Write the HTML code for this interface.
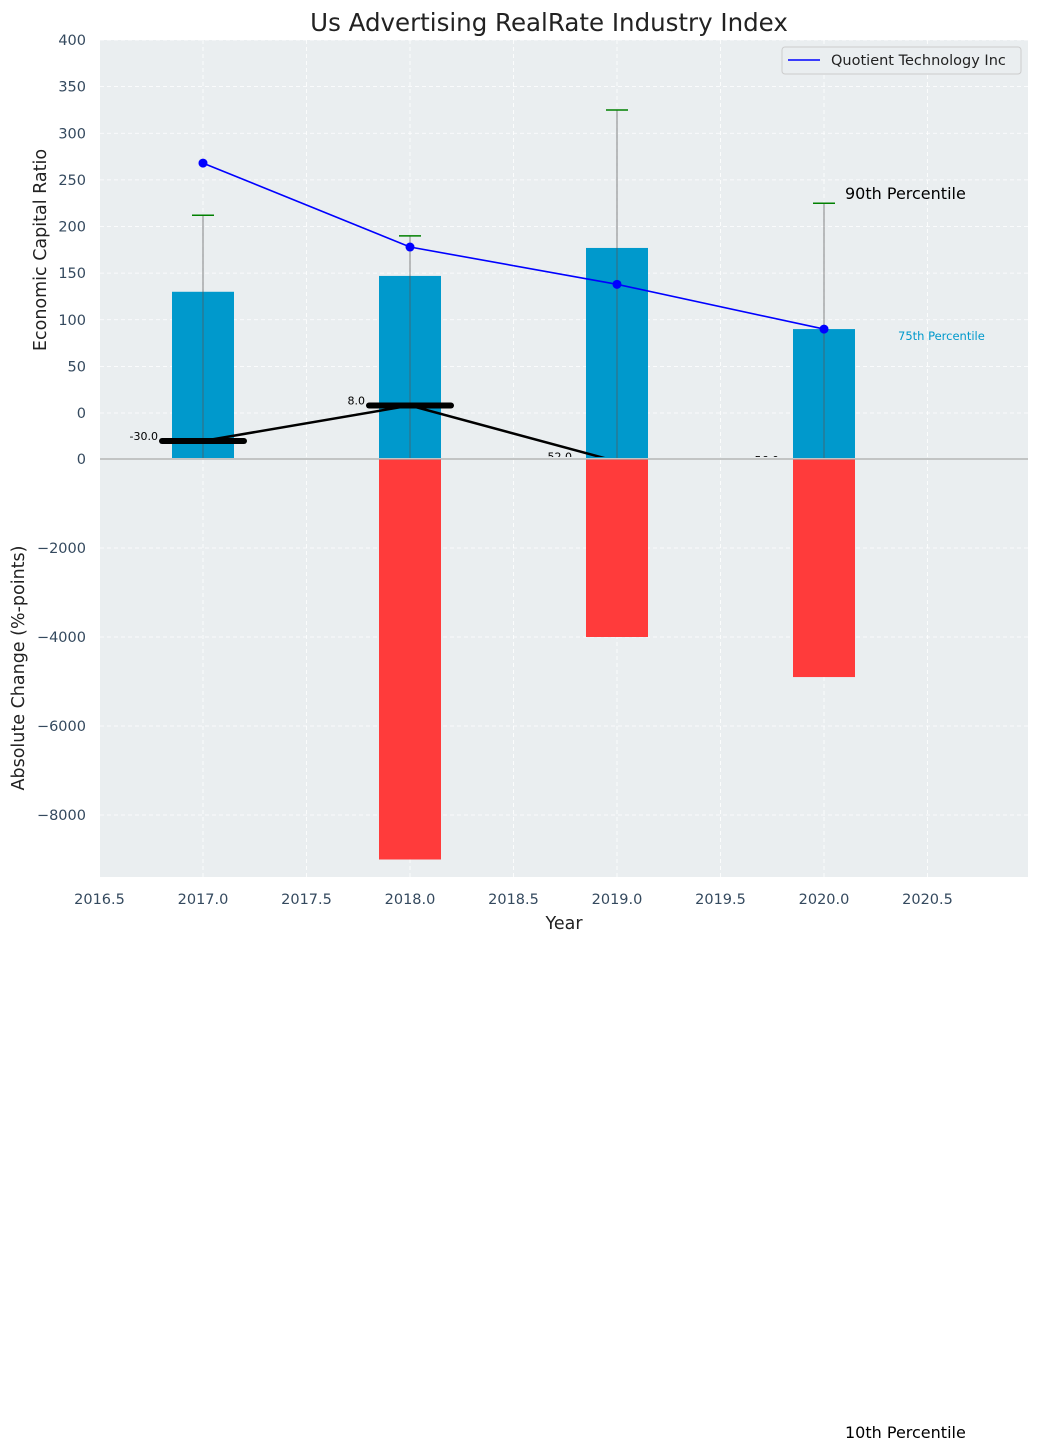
<!DOCTYPE html>
<html><head><meta charset="utf-8"><style>
body{margin:0;background:#fff;}
svg{display:block;font-family:"DejaVu Sans","Liberation Sans",sans-serif;}
</style></head><body>
<svg id="c" width="1039" height="1452" xmlns="http://www.w3.org/2000/svg"></svg>
<script>
const years=[2017,2018,2019,2020];
const barVals=[130,147,177,90];
const errTops=[212,190,325,225];
const lineVals=[268,178,138,90];
const changeVals=[-30,8,-52,-56];
const redYears=[2018,2019,2020];
const redVals=[-9000,-4000,-4900];
const xTicks=[2016.5,2017,2017.5,2018,2018.5,2019,2019.5,2020,2020.5];
const yTopTicks=[0,50,100,150,200,250,300,350,400];
const yBotTicks=[0,-2000,-4000,-6000,-8000];

const L=100,R=1028,T=40,B=877;
const X=v=>203+(v-2017)*207;
const YT=v=>413-v*0.9325;
const Yb=v=>459+(-v)*0.0445;
const svg=document.getElementById('c');
const NS='http://www.w3.org/2000/svg';
function el(t,a,p){const e=document.createElementNS(NS,t);for(const k in a)e.setAttribute(k,a[k]);(p||svg).appendChild(e);return e;}

const bg=el('rect',{x:L,y:T,width:R-L,height:B-T,fill:'#eaeef0'});



xTicks.forEach(t=>{
  const g=el('line',{x1:X(t),x2:X(t),y1:T,y2:B,stroke:'#fff','stroke-dasharray':'4,3','stroke-width':0.8});
  
  
  const tx=el('text',{x:X(t),y:904,'font-size':14.5,fill:'#34495e','text-anchor':'middle'});
  tx.textContent=t.toFixed(1);
  
  
});
yTopTicks.forEach(t=>{
  const g=el('line',{x1:L,x2:R,y1:YT(t),y2:YT(t),stroke:'#fff','stroke-dasharray':'4,3','stroke-width':0.8});
  
  
  const tx=el('text',{x:86,y:YT(t)+5,'font-size':14.5,fill:'#34495e','text-anchor':'end'});
  tx.textContent=t;
  
  
});
yBotTicks.forEach(t=>{
  const g=el('line',{x1:L,x2:R,y1:Yb(t),y2:Yb(t),stroke:'#fff','stroke-dasharray':'4,3','stroke-width':0.8});
  
  
  const tx=el('text',{x:86,y:Yb(t)+5,'font-size':14.5,fill:'#34495e','text-anchor':'end'});
  tx.textContent=t===0?'0':'\u2212'+Math.abs(t);
  
  
});

redYears.forEach((y,i)=>{
  const r=el('rect',{x:X(y)-31,y:459,width:62,height:Yb(redVals[i])-459,fill:'#ff3b3b'});
  
  
});
years.forEach((y,i)=>{
  const r=el('rect',{x:X(y)-31,y:YT(barVals[i]),width:62,height:458-YT(barVals[i]),fill:'#0099cc'});
  
  
  const e=el('line',{x1:X(y),x2:X(y),y1:458,y2:YT(errTops[i]),stroke:'#555','stroke-width':1,opacity:0.7});
  
  
  const c=el('line',{x1:X(y)-11,x2:X(y)+11,y1:YT(errTops[i]),y2:YT(errTops[i]),stroke:'green','stroke-width':1.5});
  
  
});
const zl=el('line',{x1:L,x2:R,y1:459,y2:459,stroke:'#aaa','stroke-width':1.2});



const cp=el('clipPath',{id:'cp'});
el('rect',{x:L,y:T,width:R-L,height:457-T},cp);
const cg=el('g',{'clip-path':'url(#cp)'});


const pl=el('polyline',{points:years.map((y,i)=>X(y)+','+YT(changeVals[i])).join(' '),fill:'none',stroke:'#000','stroke-width':2.5},cg);


years.forEach((y,i)=>{
  const s=el('line',{x1:X(y)-41,x2:X(y)+41,y1:YT(changeVals[i]),y2:YT(changeVals[i]),stroke:'#000','stroke-width':6,'stroke-linecap':'round'},cg);
  
  
  const t=el('text',{x:X(y)-45,y:YT(changeVals[i])-1,'font-size':11,fill:'#000','text-anchor':'end'},cg);
  t.textContent=changeVals[i].toFixed(1);
  
  
});

const bl=el('polyline',{points:years.map((y,i)=>X(y)+','+YT(lineVals[i])).join(' '),fill:'none',stroke:'blue','stroke-width':1.6});


years.forEach((y,i)=>{
  const c=el('circle',{cx:X(y),cy:YT(lineVals[i]),r:4.5,fill:'blue'});
  
  
});

function txt(s,a,name){const t=el('text',a);t.textContent=s;return t;}
txt('Us Advertising RealRate Industry Index',{x:549,y:31,'font-size':24.5,fill:'#222','text-anchor':'middle'},'chart-title');
txt('Year',{x:564,y:929,'font-size':17.5,fill:'#222','text-anchor':'middle'},'x-axis-title');
txt('Economic Capital Ratio',{x:46,y:250,'font-size':17.5,fill:'#222','text-anchor':'middle',transform:'rotate(-90 46 250)'},'y-top-axis-title');
txt('Absolute Change (%-points)',{x:24,y:668,'font-size':17.5,fill:'#222','text-anchor':'middle',transform:'rotate(-90 24 668)'},'y-bottom-axis-title');
txt('90th Percentile',{x:845,y:199,'font-size':16,fill:'#000'},'p90-label');
txt('75th Percentile',{x:898,y:340,'font-size':11.5,fill:'#0099cc'},'p75-label');
txt('10th Percentile',{x:845,y:1438,'font-size':16,fill:'#000'},'p10-label');

const lg=el('g',{});


el('rect',{x:782,y:47,width:239,height:27,rx:3,fill:'#eaeef0',stroke:'#ccc'},lg);
el('line',{x1:788,x2:820,y1:60,y2:60,stroke:'blue','stroke-width':1.6},lg);
const lt=el('text',{x:831,y:65,'font-size':14.5,fill:'#222'},lg);
lt.textContent='Quotient Technology Inc';


</script>
</body></html>
